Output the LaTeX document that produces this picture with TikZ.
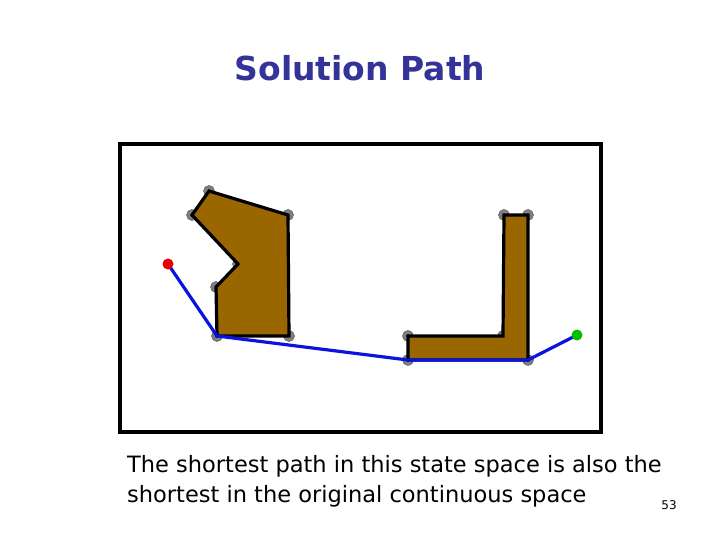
\documentclass[tikz,border=0pt]{standalone}
\usepackage{fontspec}
\setmainfont{DejaVu Sans}
\usetikzlibrary{positioning}
\definecolor{obstacle}{RGB}{153,102,0}
\definecolor{titleblue}{RGB}{51,51,153}
\definecolor{pathblue}{RGB}{10,20,220}
\definecolor{cornergray}{RGB}{128,128,128}

\begin{document}
\begin{tikzpicture}[x=1pt, y=-1pt,
  corner/.style={circle, fill=cornergray, draw=black!60, line width=0.6pt, inner sep=0pt, minimum size=11pt},
  block/.style={fill=obstacle, draw=black, line width=3.2pt, line join=miter},
  route/.style={draw=pathblue, line width=3.2pt, line join=round},
  endpoint/.style={circle, inner sep=0pt, minimum size=11pt}]
\useasboundingbox (0,0) rectangle (720,540);
% frame
\draw[line width=3.2pt] (120,144) rectangle (601,432);
% obstacle corners
\foreach \n/\x/\y in {a1/209/191, a2/288/215, a3/289/336, a4/217/336, a5/216/287, a6/238/264, a7/192/215,
                      b1/504/215, b2/528/215, b3/528/360, b4/408/360, b5/408/336, b6/503/336}
\node[corner] (\n) at (\x,\y) {};
% obstacles
\draw[block] (a1.center) -- (a2.center) -- (a3.center) -- (a4.center) -- (a5.center) -- (a6.center) -- (a7.center) -- cycle;
\draw[block] (b1.center) -- (b2.center) -- (b3.center) -- (b4.center) -- (b5.center) -- (b6.center) -- cycle;
% start, goal and path
\node[endpoint] (start) at (168,264) {};
\node[endpoint] (goal) at (577,335) {};
\draw[route] (start.center) -- (a4.center) -- (b4.center) -- (b3.center) -- (goal.center);
\node[endpoint, fill=red!90!black] at (start) {};
\node[endpoint, fill=green!75!black] at (goal) {};
% labels
\node[text=titleblue, font=\bfseries\fontsize{33}{38}\selectfont] (title) at (360,68) {Solution Path};
\node[anchor=north west, align=left, inner sep=0pt, font=\fontsize{22.5}{30}\selectfont] (caption) at (127,455)
  {The shortest path in this state space is also the\\shortest in the original continuous space};
\node[font=\fontsize{12}{14}\selectfont] (pagenum) at (669,505) {53};
\end{tikzpicture}
\end{document}
